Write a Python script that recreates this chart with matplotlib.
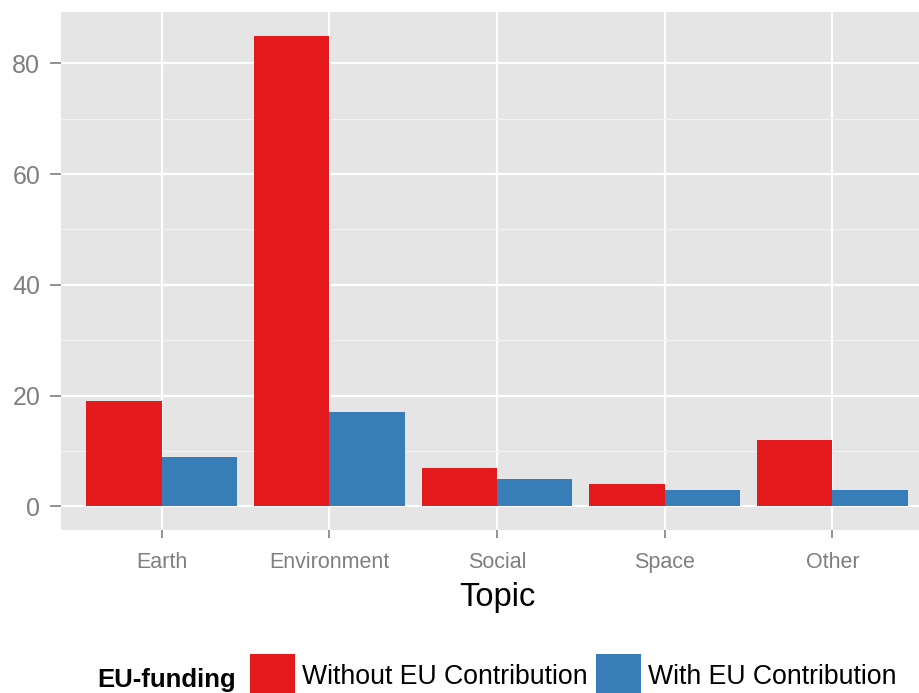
import numpy as np
import matplotlib.pyplot as plt
from matplotlib.ticker import MultipleLocator

topics = ["Earth", "Environment", "Social", "Space", "Other"]
without_eu = [19, 85, 7, 4, 12]
with_eu = [9, 17, 5, 3, 3]
series_labels = ["Without EU Contribution", "With EU Contribution"]
colors = ["#E41A1C", "#377EB8"]

plt.rcParams['font.family'] = ['Liberation Sans', 'DejaVu Sans']

W, H = 920, 693
fig = plt.figure(figsize=(W / 100, H / 100), dpi=100)
# panel runs past the right edge like the cropped original
ax = fig.add_axes([61 / W, (H - 530) / H, (933 - 61) / W, (530 - 12) / H])
ax.set_facecolor("#E5E5E5")

x = np.arange(len(topics))
bw = 0.45
b1 = ax.bar(x - bw / 2, without_eu, bw, color=colors[0], label=series_labels[0], zorder=3)
b2 = ax.bar(x + bw / 2, with_eu, bw, color=colors[1], label=series_labels[1], zorder=3)

ax.set_xlim(-0.6, len(topics) - 0.4)
ax.set_ylim(-4.25, 89.25)
ax.yaxis.set_major_locator(MultipleLocator(20))
ax.yaxis.set_minor_locator(MultipleLocator(10))
ax.set_xticks(x)
ax.set_xticklabels(topics)

ax.grid(which="major", color="white", linewidth=1.6, zorder=0)
ax.grid(which="minor", axis="y", color="#F2F2F2", linewidth=0.8, zorder=0)
ax.set_axisbelow(True)
for s in ax.spines.values():
    s.set_visible(False)

ax.tick_params(axis="both", which="major", color="#7F7F7F", width=1.2,
               labelcolor="#7F7F7F")
ax.tick_params(axis="y", which="minor", length=0)
ax.tick_params(axis="y", labelsize=18, length=8, pad=7)
ax.tick_params(axis="x", labelsize=15.5, length=6, pad=10)
ax.set_xlabel("Topic", fontsize=23.5, color="black", labelpad=6)

fs = 19.2
fig.text(97 / W, 1 - 680 / H, "EU-funding", fontsize=18.5, fontweight="bold",
         va="center", ha="left")
fig.legend(handles=[b1, b2], labels=series_labels, ncol=2, frameon=False,
           loc="center left", bbox_to_anchor=(250 / W, 1 - 676 / H),
           fontsize=fs, handlelength=1.69, handleheight=2.15,
           handletextpad=0.27, columnspacing=0.3, borderpad=0, borderaxespad=0)

fig.savefig("out.png", dpi=100)
